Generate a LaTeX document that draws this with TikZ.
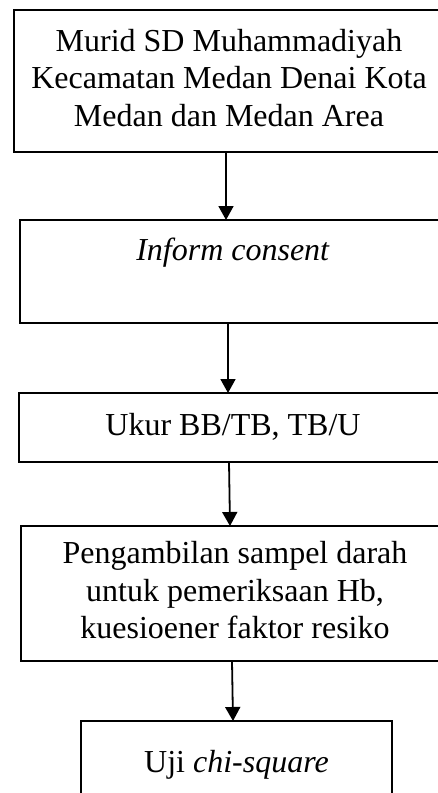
\documentclass[tikz,border=0pt]{standalone}
\usepackage{fontspec}
\setmainfont{Liberation Serif}
\usetikzlibrary{arrows.meta}
\newcommand{\geser}[2]{\begin{tabular}{@{}c@{\hspace{#1}}}#2\end{tabular}}
\tikzset{
	kotak/.style={draw, line width=2.4pt, anchor=north west, inner sep=0pt, outer sep=0pt,
		font=\fontsize{32}{37.5}\selectfont},
	panah/.style={line width=1.8pt, -{Triangle[width=15pt,length=14pt]}}
}
\begin{document}
\begin{tikzpicture}[x=1pt, y=-1pt]
	\useasboundingbox (0,0) rectangle (438,793);
	\clip (0,0) rectangle (438,793);
	\node[kotak, minimum width=456, minimum height=142] (murid) at (14,10)
		{\geser{26pt}{Murid SD Muhammadiyah\\Kecamatan Medan Denai Kota\\Medan dan Medan Area}};
	\node[kotak, minimum width=450, minimum height=103] (consent) at (20,220)
		{\geser{24pt}{\textit{Inform consent}\\ \mbox{}}};
	\node[kotak, minimum width=451, minimum height=69] (ukur) at (19,393)
		{\geser{23pt}{Ukur BB/TB, TB/U}};
	\node[kotak, minimum width=449, minimum height=135] (sampel) at (21,526)
		{\geser{21pt}{Pengambilan sampel darah\\untuk pemeriksaan Hb,\\kuesioener faktor resiko}};
	\node[kotak, minimum width=311, minimum height=87] (uji) at (81,721)
		{\geser{0pt}{Uji \textit{chi-square}}};
	\draw[panah] ([xshift=-16pt]murid.south) -- ([xshift=-19pt]consent.north);
	\draw[panah] ([xshift=-17pt]consent.south) -- ([xshift=-16.5pt]ukur.north);
	\draw[panah] ([xshift=-15.5pt]ukur.south) -- ([xshift=-15.5pt]sampel.north);
	\draw[panah] ([xshift=-13.5pt]sampel.south) -- ([xshift=-3.5pt]uji.north);
\end{tikzpicture}
\end{document}
